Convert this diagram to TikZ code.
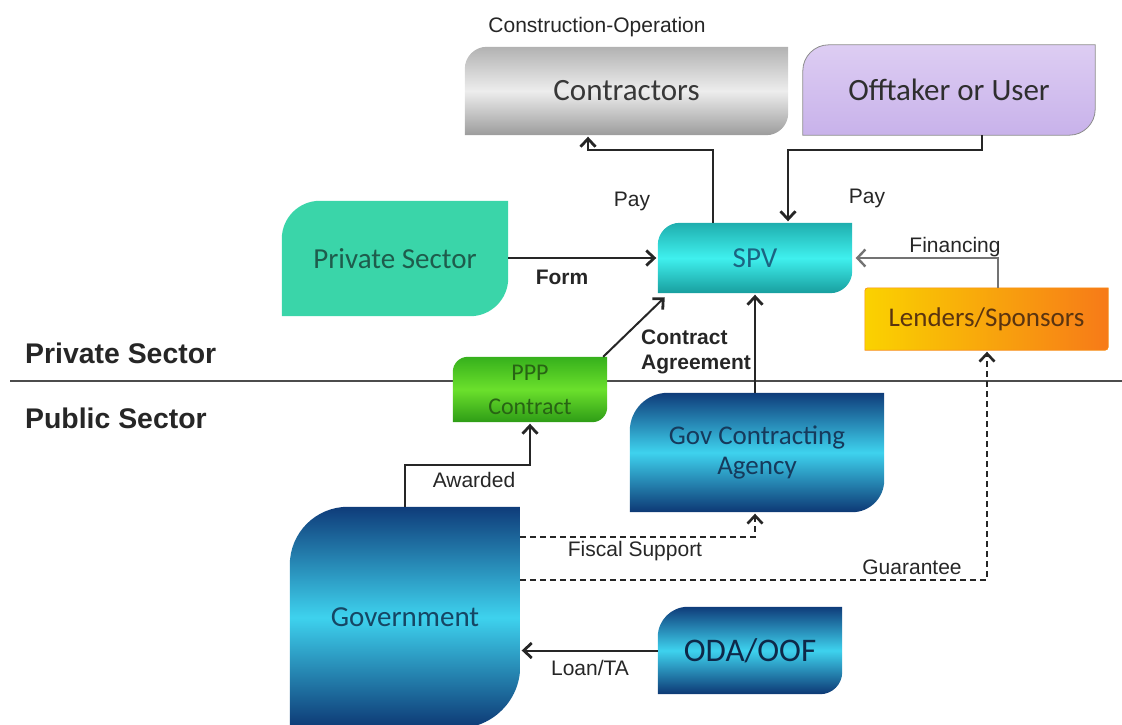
\documentclass[tikz,border=0pt]{standalone}
\usepackage{fontspec}
\setmainfont{Liberation Sans}
\newfontfamily\boxfont{Carlito}
\usetikzlibrary{arrows.meta,backgrounds}
\definecolor{lab}{HTML}{262626}
\definecolor{navyT}{HTML}{0F3C7A}
\definecolor{navyB}{HTML}{0D3874}
\definecolor{cyanM}{HTML}{3ED2EE}
\definecolor{tealT}{HTML}{1FAEAE}
\definecolor{tealM}{HTML}{3FF0EE}
\definecolor{tealB}{HTML}{189E9E}
\definecolor{grayT}{HTML}{B2B2B2}
\definecolor{grayM}{HTML}{EDEDED}
\definecolor{grayB}{HTML}{9C9C9C}
\definecolor{lavT}{HTML}{DDCDF3}
\definecolor{lavB}{HTML}{C8B2EA}
\definecolor{mint}{HTML}{3AD5A9}
\definecolor{grT}{HTML}{36B01C}
\definecolor{grM}{HTML}{6BE02C}
\definecolor{grB}{HTML}{2E9C16}
\definecolor{yel}{HTML}{FAD200}
\definecolor{ora}{HTML}{F77A18}
\newcommand\dshape[4]{%
  \path[#4] (#1.south west) -- ([yshift=-#2]#1.north west)
    arc[start angle=180,end angle=90,radius=#2] -- (#1.north east)
    -- ([yshift=#3]#1.south east)
    arc[start angle=0,end angle=-90,radius=#3] -- cycle;}
\begin{document}
\begin{tikzpicture}[x=1pt,y=1pt,
  box/.style={inner sep=0pt, align=center, font=\boxfont\fontsize{29}{32}\selectfont},
  lbl/.style={inner sep=0pt, font=\fontsize{21}{24}\selectfont, text=lab},
  lblb/.style={inner sep=0pt, font=\bfseries\fontsize{21}{25.5}\selectfont, text=lab},
  head/.style={inner sep=0pt, anchor=west, font=\bfseries\fontsize{28.4}{30}\selectfont, text=black!85},
  arr/.style={draw=black!85, line width=2pt, shorten >=1.5pt, -{Straight Barb[length=8pt,width=15pt,line width=2.8pt]}},
  garr/.style={draw=black!55, line width=1.6pt, shorten >=1.5pt, -{Straight Barb[length=8pt,width=17pt,line width=2.4pt]}},
  darr/.style={draw=black!85, line width=1.4pt, shorten >=1.5pt, dash pattern=on 6pt off 4pt, -{Straight Barb[length=8pt,width=15pt,line width=2.6pt]}},
]
\useasboundingbox (0,0) rectangle (1122,-725);

\node[head] (hpriv) at (25,-353) {Private Sector};
\node[head] (hpub) at (25,-418) {Public Sector};

% boxes
\node[box, minimum width=323pt, minimum height=88pt, font=\boxfont\fontsize{31}{34}\selectfont, text=black!78] (contractors) at (626.5,-91) {Contractors};
\node[box, minimum width=292pt, minimum height=90pt, font=\boxfont\fontsize{31}{34}\selectfont, text=black!82] (offtaker) at (949,-90) {Offtaker or User};
\node[box, minimum width=226pt, minimum height=115pt, text={rgb,255:red,30;green,92;blue,76}] (private) at (395,-258.5) {Private Sector};
\node[box, minimum width=194pt, minimum height=70pt, text={rgb,255:red,28;green,100;blue,130}] (spv) at (755,-258) {SPV};
\node[box, minimum width=243pt, minimum height=62pt, font=\boxfont\fontsize{27}{30}\selectfont, text={rgb,255:red,90;green,52;blue,16}] (lenders) at (986.5,-319) {Lenders/Sponsors};
\node[box, minimum width=154pt, minimum height=65pt, font=\boxfont\fontsize{24}{34}\selectfont, text={rgb,255:red,40;green,100;blue,20}] (ppp) at (530,-389.5) {PPP\\Contract};
\node[box, minimum width=254pt, minimum height=119pt, font=\boxfont\fontsize{27}{30}\selectfont, text={rgb,255:red,22;green,58;blue,92}] (agency) at (757,-452.5) {Gov Contracting\\Agency};
\node[box, minimum width=230pt, minimum height=221pt, text={rgb,255:red,22;green,70;blue,100}] (gov) at (405,-617.5) {Government};
\node[box, minimum width=184pt, minimum height=87pt, font=\boxfont\fontsize{33}{36}\selectfont, text={rgb,255:red,14;green,40;blue,72}] (oda) at (750,-650.5) {ODA/OOF};

\begin{scope}[on background layer]
  % divider
  \draw[draw=black!70, line width=2.5pt] (10,-381) -- (1122,-381);
  \dshape{contractors}{22pt}{22pt}{top color=grayT, bottom color=grayB, middle color=grayM}
  \dshape{offtaker}{26pt}{26pt}{top color=lavT, bottom color=lavB, draw=black!45, line width=0.8pt}
  \dshape{private}{38pt}{38pt}{fill=mint}
  \dshape{spv}{22pt}{22pt}{top color=tealT, bottom color=tealB, middle color=tealM}
  \dshape{lenders}{3pt}{3pt}{left color=yel, right color=ora, draw=ora!80!yel, line width=0.6pt}
  \dshape{ppp}{15pt}{15pt}{top color=grT, bottom color=grB, middle color=grM}
  \dshape{agency}{38pt}{32pt}{top color=navyT, bottom color=navyB, middle color=cyanM}
  \dshape{gov}{58pt}{62pt}{top color=navyT, bottom color=navyB, middle color=cyanM}
  \dshape{oda}{30pt}{22pt}{top color=navyT, bottom color=navyB, middle color=cyanM}
\end{scope}

% labels
\node[lbl] (conop) at (597,-27) {Construction-Operation};
\node[lbl] (payl) at (632,-201) {Pay};
\node[lbl] (payr) at (867,-198) {Pay};
\node[lblb] (form) at (562,-277) {Form};
\node[lbl] (fin) at (955,-247) {Financing};
\node[lblb, align=left, anchor=west] (ca) at (641,-352) {Contract\\Agreement};
\node[lbl] (awd) at (474,-480) {Awarded};
\node[lbl] (fis) at (635,-551) {Fiscal Support};
\node[lbl] (gua) at (912,-567) {Guarantee};
\node[lbl] (loan) at (590,-668) {Loan/TA};

% connectors
\draw[arr] ([xshift=-42pt]spv.north) -- ++(0,73) -| ([xshift=-38.5pt]contractors.south);
\draw[arr] ([xshift=33pt]offtaker.south) -- ++(0,-15) -| ([xshift=33pt]spv.north);
\draw[arr] (private.east |- spv.west) -- (spv.west);
\draw[garr] ([xshift=11.5pt]lenders.north) |- ([xshift=2pt]spv.east);
\draw[arr] ([xshift=-4pt]ppp.north east) -- ([xshift=8pt,yshift=-3pt]spv.south west);
\draw[arr] (spv.south |- agency.north) -- (spv.south);
\draw[arr] (gov.north) -- ++(0,42) -| (ppp.south);
\draw[darr] ([yshift=-30pt]gov.north east) -| ([xshift=-2pt]agency.south);
\draw[darr] ([yshift=-73pt]gov.north east) -| ([xshift=0.5pt]lenders.south);
\draw[arr] (oda.west) -- (oda.west -| gov.east);
\end{tikzpicture}
\end{document}
